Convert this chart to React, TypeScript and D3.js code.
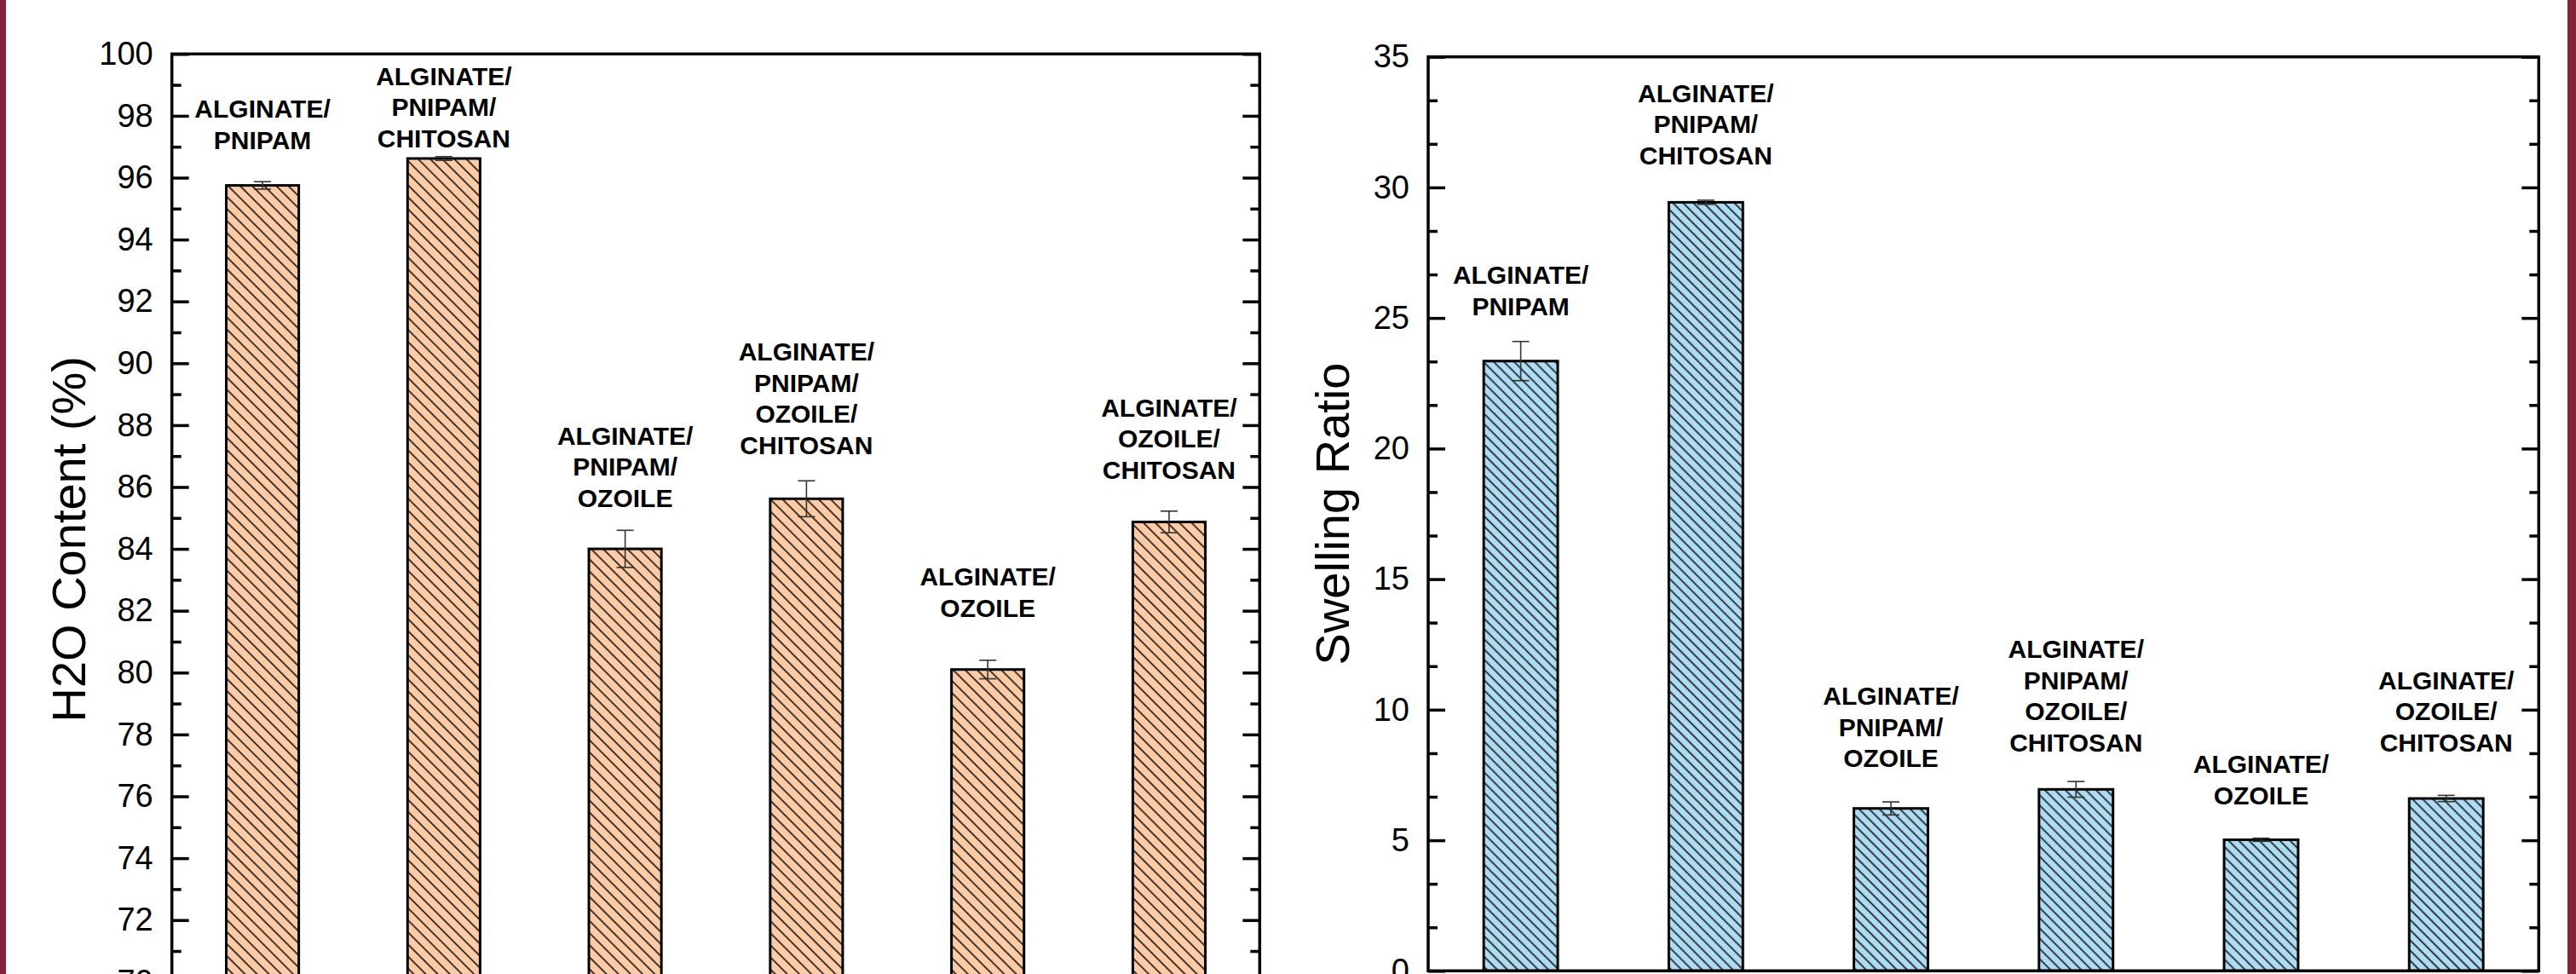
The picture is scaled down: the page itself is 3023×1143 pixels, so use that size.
import React, { useRef, useEffect } from "react";
import * as d3 from "d3";

// bar groups, each label is stacked line by line above its bar
const groupLabels: string[][] = [
  ["ALGINATE/", "PNIPAM"],
  ["ALGINATE/", "PNIPAM/", "CHITOSAN"],
  ["ALGINATE/", "PNIPAM/", "OZOILE"],
  ["ALGINATE/", "PNIPAM/", "OZOILE/", "CHITOSAN"],
  ["ALGINATE/", "OZOILE"],
  ["ALGINATE/", "OZOILE/", "CHITOSAN"],
];

// left panel: water content (%)
const waterContent = [95.75, 96.62, 84.0, 85.62, 80.1, 84.87];
const waterErr = [0.12, 0.06, 0.6, 0.58, 0.3, 0.35];
const waterLabelAt = [97.23, 97.28, 85.66, 87.36, 82.11, 86.57]; // level of last label line
const waterTicks = [70, 72, 74, 76, 78, 80, 82, 84, 86, 88, 90, 92, 94, 96, 98, 100];

// right panel: swelling ratio
const swelling = [23.35, 29.43, 6.22, 6.95, 5.02, 6.6];
const swellingErr = [0.75, 0.08, 0.25, 0.3, 0.06, 0.12];
const swellingLabelAt = [25.46, 31.24, 8.16, 8.75, 6.73, 8.75];
const swellingTicks = [0, 5, 10, 15, 20, 25, 30, 35];

const W = 3023;
const H = 1143;
const FONT = "'Liberation Sans', Arial, Helvetica, sans-serif";

type Panel = {
  x0: number;
  x1: number;
  yTop: number;
  yBottom: number;
  values: number[];
  errors: number[];
  labelAt: number[];
  ticks: number[];
  minorPerMajor: number;
  title: string;
  titleX: number;
  titleShift: number;
  fill: string;
  patternId: string;
  hatch: number;
};

const drawPanel = (svg: d3.Selection<SVGSVGElement, unknown, null, undefined>, p: Panel) => {
  const cats = groupLabels.map((_, i) => String(i));
  const x = d3.scaleBand().domain(cats).range([p.x0, p.x1]).paddingInner(0.6).paddingOuter(0.3);
  const y = d3
    .scaleLinear()
    .domain([p.ticks[0], p.ticks[p.ticks.length - 1]])
    .range([p.yBottom, p.yTop]);

  // minor ticks between major ticks
  const minor: number[] = [];
  for (let i = 0; i < p.ticks.length - 1; i++) {
    const step = (p.ticks[i + 1] - p.ticks[i]) / (p.minorPerMajor + 1);
    for (let k = 1; k <= p.minorPerMajor; k++) minor.push(p.ticks[i] + step * k);
  }

  const defs = svg.append("defs");
  const pat = defs
    .append("pattern")
    .attr("id", p.patternId)
    .attr("patternUnits", "userSpaceOnUse")
    .attr("width", p.hatch)
    .attr("height", p.hatch)
    .attr("patternTransform", "rotate(-45)");
  pat.append("rect").attr("width", p.hatch).attr("height", p.hatch).attr("fill", p.fill);
  pat
    .append("line")
    .attr("x1", p.hatch / 2)
    .attr("x2", p.hatch / 2)
    .attr("y1", 0)
    .attr("y2", p.hatch)
    .attr("stroke", "#111")
    .attr("stroke-width", 1.6);

  const g = svg.append("g");

  // bars
  g.selectAll("rect.bar")
    .data(p.values)
    .join("rect")
    .attr("class", "bar")
    .attr("x", (_, i) => x(cats[i])!)
    .attr("width", x.bandwidth())
    .attr("y", (d) => y(d))
    .attr("height", (d) => p.yBottom - y(d))
    .attr("fill", `url(#${p.patternId})`)
    .attr("stroke", "#000")
    .attr("stroke-width", 3);

  // error bars
  const cap = 10;
  const eb = g
    .selectAll("g.err")
    .data(p.values)
    .join("g")
    .attr("class", "err")
    .attr("stroke", "#333")
    .attr("stroke-width", 1.6);
  eb.append("line")
    .attr("x1", (_, i) => x(cats[i])! + x.bandwidth() / 2)
    .attr("x2", (_, i) => x(cats[i])! + x.bandwidth() / 2)
    .attr("y1", (d, i) => y(d - p.errors[i]))
    .attr("y2", (d, i) => y(d + p.errors[i]));
  [1, -1].forEach((s) => {
    eb.append("line")
      .attr("x1", (_, i) => x(cats[i])! + x.bandwidth() / 2 - cap)
      .attr("x2", (_, i) => x(cats[i])! + x.bandwidth() / 2 + cap)
      .attr("y1", (d, i) => y(d + s * p.errors[i]))
      .attr("y2", (d, i) => y(d + s * p.errors[i]));
  });

  // left axis with labels
  const left = g
    .append("g")
    .attr("transform", `translate(${p.x0},0)`)
    .call(d3.axisLeft(y).tickValues(p.ticks).tickSize(-20).tickPadding(22));
  left.select(".domain").remove();
  left.selectAll("line").attr("stroke", "#000").attr("stroke-width", 3.5);
  left
    .selectAll("text")
    .attr("font-family", FONT)
    .attr("font-size", 38)
    .attr("fill", "#000");

  const leftMinor = g
    .append("g")
    .attr("transform", `translate(${p.x0},0)`)
    .call(d3.axisLeft(y).tickValues(minor).tickSize(-11).tickFormat(() => ""));
  leftMinor.select(".domain").remove();
  leftMinor.selectAll("line").attr("stroke", "#000").attr("stroke-width", 3.5);

  // right axis, ticks only
  const right = g
    .append("g")
    .attr("transform", `translate(${p.x1},0)`)
    .call(d3.axisRight(y).tickValues(p.ticks).tickSize(-20).tickFormat(() => ""));
  right.select(".domain").remove();
  right.selectAll("line").attr("stroke", "#000").attr("stroke-width", 3.5);
  const rightMinor = g
    .append("g")
    .attr("transform", `translate(${p.x1},0)`)
    .call(d3.axisRight(y).tickValues(minor).tickSize(-11).tickFormat(() => ""));
  rightMinor.select(".domain").remove();
  rightMinor.selectAll("line").attr("stroke", "#000").attr("stroke-width", 3.5);

  // frame
  g.append("rect")
    .attr("x", p.x0)
    .attr("y", p.yTop)
    .attr("width", p.x1 - p.x0)
    .attr("height", p.yBottom - p.yTop)
    .attr("fill", "none")
    .attr("stroke", "#000")
    .attr("stroke-width", 3.5);

  // group labels
  const lineGap = 36.5;
  const fs = 30;
  groupLabels.forEach((lines, i) => {
    const cx = x(cats[i])! + x.bandwidth() / 2;
    const base = y(p.labelAt[i]);
    lines.forEach((t, k) => {
      g.append("text")
        .attr("x", cx)
        .attr("y", base - (lines.length - 1 - k) * lineGap + fs * 0.36)
        .attr("text-anchor", "middle")
        .attr("font-family", FONT)
        .attr("font-weight", "bold")
        .attr("font-size", fs)
        .attr("fill", "#000")
        .text(t);
    });
  });

  // axis title
  const cy = (p.yTop + p.yBottom) / 2 + p.titleShift;
  g.append("text")
    .attr("transform", `translate(${p.titleX},${cy}) rotate(-90)`)
    .attr("text-anchor", "middle")
    .attr("dominant-baseline", "central")
    .attr("font-family", FONT)
    .attr("font-size", 56)
    .attr("fill", "#000")
    .text(p.title);
};

const App = () => {
  const svgRef = useRef<SVGSVGElement>(null);

  useEffect(() => {
    const svg = d3.select(svgRef.current!);
    svg.selectAll("*").remove();

    svg.append("rect").attr("width", W).attr("height", H).attr("fill", "#fff");
    // maroon side strips
    svg.append("rect").attr("x", 0).attr("width", 7).attr("height", H).attr("fill", "#86233a");
    svg.append("rect").attr("x", 3013).attr("width", 10).attr("height", H).attr("fill", "#86233a");

    drawPanel(svg, {
      x0: 201.7,
      x1: 1478.3,
      yTop: 63.3,
      yBottom: 1152.3,
      values: waterContent,
      errors: waterErr,
      labelAt: waterLabelAt,
      ticks: waterTicks,
      minorPerMajor: 1,
      title: "H2O Content (%)",
      titleX: 80,
      titleShift: 25,
      fill: "#fdcba6",
      patternId: "hatchOrange",
      hatch: 10,
    });

    drawPanel(svg, {
      x0: 1676,
      x1: 2979.3,
      yTop: 66.7,
      yBottom: 1139.3,
      values: swelling,
      errors: swellingErr,
      labelAt: swellingLabelAt,
      ticks: swellingTicks,
      minorPerMajor: 2,
      title: "Swelling Ratio",
      titleX: 1563,
      titleShift: 0,
      fill: "#aedcf3",
      patternId: "hatchBlue",
      hatch: 8.5,
    });
  }, []);

  return (
    <>
      <style>{"body{margin:0;overflow:hidden}"}</style>
      <svg ref={svgRef} width={W} height={H} style={{ display: "block" }}></svg>
    </>
  );
};

export default App;
